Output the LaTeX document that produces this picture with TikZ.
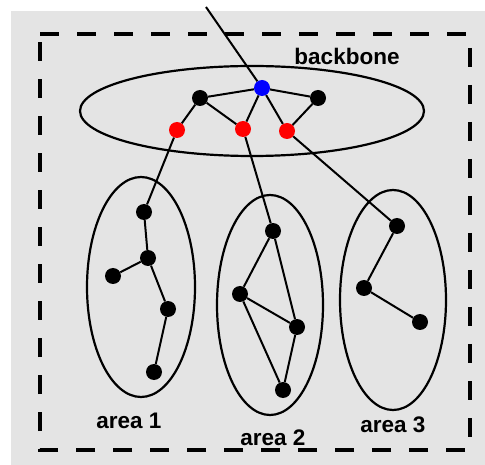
\documentclass[tikz,border=0pt]{standalone}
\usepackage{fontspec}
\setmainfont{Liberation Sans}
\usetikzlibrary{positioning}
\tikzset{
  wire/.style      = {line width=2pt},
  ring/.style      = {line width=2.2pt},
  border/.style    = {line width=3.4pt, dash pattern=on 19pt off 18pt},
  node dot/.style  = {circle, fill=black, inner sep=0pt, minimum size=16pt},
  exit dot/.style  = {node dot, fill=red},
  core dot/.style  = {node dot, fill=blue},
  arealabel/.style = {font=\fontsize{22.5}{26}\selectfont\bfseries, anchor=base, inner sep=0pt},
}
\definecolor{bg}{RGB}{228,228,228}

\begin{document}
\begin{tikzpicture}[x=1pt,y=-1pt]
  \useasboundingbox (0,0) rectangle (485,465);
  \fill[bg] (11,11) rectangle (485,465);

  % dashed frame
  \draw[border] (40,34) -- (470,34) -- (470,450) -- (40,450) -- cycle;

  % backbone and areas
  \draw[ring] (252,111) ellipse [x radius=172, y radius=45];
  \draw[ring] (141,287) ellipse [x radius=54, y radius=110];
  \draw[ring] (270,305) ellipse [x radius=53, y radius=110];
  \draw[ring] (393,300) ellipse [x radius=53, y radius=110];

  \node[arealabel] (lbb) at (347,65) {backbone};
  \node[arealabel] (la1) at (129,428) {area 1};
  \node[arealabel] (la2) at (273,445) {area 2};
  \node[arealabel] (la3) at (393,432) {area 3};

  % backbone routers
  \coordinate (ext) at (206,7);
  \node[node dot] (b1) at (200,98) {};
  \node[core dot] (bc) at (262,88) {};
  \node[node dot] (b2) at (318,98) {};
  \node[exit dot] (r1) at (177,130) {};
  \node[exit dot] (r2) at (243,129) {};
  \node[exit dot] (r3) at (287,131) {};

  % area 1
  \node[node dot] (a1a) at (144,212) {};
  \node[node dot] (a1b) at (148,258) {};
  \node[node dot] (a1c) at (113,276) {};
  \node[node dot] (a1d) at (168,309) {};
  \node[node dot] (a1e) at (154,372) {};

  % area 2
  \node[node dot] (a2a) at (273,231) {};
  \node[node dot] (a2b) at (240,294) {};
  \node[node dot] (a2c) at (297,327) {};
  \node[node dot] (a2d) at (283,390) {};

  % area 3
  \node[node dot] (a3a) at (397,226) {};
  \node[node dot] (a3b) at (364,288) {};
  \node[node dot] (a3c) at (420,322) {};

  % links
  \draw[wire] (ext) -- (bc);
  \draw[wire] (b1) -- (bc) -- (b2);
  \draw[wire] (b1) -- (r1);
  \draw[wire] (b1) -- (r2);
  \draw[wire] (bc) -- (r2);
  \draw[wire] (bc) -- (r3);
  \draw[wire] (b2) -- (r3);

  \draw[wire] (r1) -- (a1a) -- (a1b) -- (a1c);
  \draw[wire] (a1b) -- (a1d) -- (a1e);

  \draw[wire] (r2) -- (a2a) -- (a2b) -- (a2c) -- (a2a);
  \draw[wire] (a2b) -- (a2d) -- (a2c);

  \draw[wire] (r3) -- (a3a) -- (a3b) -- (a3c);
\end{tikzpicture}
\end{document}
